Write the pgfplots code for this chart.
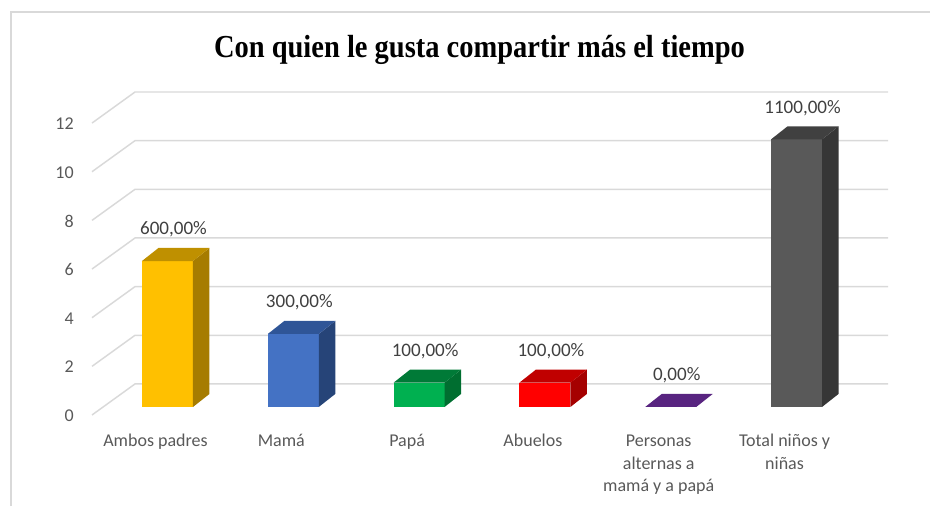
\documentclass[border=0pt]{standalone}
\usepackage{pgfplots}
\pgfplotsset{compat=1.18}
\usepackage{fontspec}
\setmainfont{Carlito}
\newfontfamily\titlefont[FakeStretch=0.89]{Liberation Serif}
\definecolor{txt}{HTML}{595959}
\definecolor{lbl}{HTML}{404040}
\definecolor{gridc}{HTML}{D9D9D9}
\definecolor{yF}{HTML}{FFC000}\definecolor{yS}{HTML}{A67C00}\definecolor{yT}{HTML}{BF9000}
\definecolor{bF}{HTML}{4472C4}\definecolor{bS}{HTML}{264478}\definecolor{bT}{HTML}{2F5597}
\definecolor{gF}{HTML}{00B050}\definecolor{gS}{HTML}{006E30}\definecolor{gT}{HTML}{007A37}
\definecolor{rF}{HTML}{FF0000}\definecolor{rS}{HTML}{A50000}\definecolor{rT}{HTML}{C00000}
\definecolor{pT}{HTML}{582480}
\definecolor{kF}{HTML}{595959}\definecolor{kS}{HTML}{363636}\definecolor{kT}{HTML}{404040}
\begin{document}
\begin{tikzpicture}
\path[use as bounding box] (0,0) rectangle (697.5pt,379.5pt);
\draw[gridc, line width=1.5pt] (8.25pt,0) -- (8.25pt,370.5pt) -- (697.5pt,370.5pt);
\node[anchor=base, inner sep=0pt, font=\titlefont\bfseries\fontsize{24}{28}\selectfont] at (359.6pt,336.3pt) {Con quien le gusta compartir más el tiempo};
\begin{axis}[
  at={(69pt,68.25pt)}, anchor=south west,
  scale only axis, width=597pt, height=242.25pt,
  xmin=-0.6, xmax=5.727, ymin=-0.33, ymax=12.947,
  clip=false, no markers,
  axis line style={draw=none},
  major tick length=0pt,
  ytick={0,2,...,12},
  yticklabel style={font=\fontsize{13.5}{16.9}\selectfont, text=txt, anchor=east, inner sep=0pt, xshift=-13.5pt, yshift=-6.5pt},
  /pgf/number format/assume math mode=true,
  xtick={0,...,5},
  xticklabels={{\strut Ambos padres},{\strut Mamá},{\strut Papá},{\strut Abuelos},{\strut Personas\\alternas a\\mamá y a papá},{\strut Total niños y\\niñas}},
  xticklabel style={font=\fontsize{13.5}{16.9}\selectfont, text=txt, anchor=north, inner sep=0pt, align=center, xshift=-9pt, yshift=-11.75pt},
]
% perspective gridlines
\addplot[gridc, line width=1.1pt] coordinates {(-0.6,-0.33) (-0.258,0.947) (5.727,0.947)};
\addplot[gridc, line width=1.1pt] coordinates {(-0.6,1.67) (-0.258,2.947) (5.727,2.947)};
\addplot[gridc, line width=1.1pt] coordinates {(-0.6,3.67) (-0.258,4.947) (5.727,4.947)};
\addplot[gridc, line width=1.1pt] coordinates {(-0.6,5.67) (-0.258,6.947) (5.727,6.947)};
\addplot[gridc, line width=1.1pt] coordinates {(-0.6,7.67) (-0.258,8.947) (5.727,8.947)};
\addplot[gridc, line width=1.1pt] coordinates {(-0.6,9.67) (-0.258,10.947) (5.727,10.947)};
\addplot[gridc, line width=1.1pt] coordinates {(-0.6,11.67) (-0.258,12.947) (5.727,12.947)};
% Ambos padres = 6
\addplot[ybar, bar width=0.405, bar shift=0pt, fill=yF, draw=none] coordinates {(0,6)};
\addplot[fill=yS, draw=none] coordinates {(0.2027,0) (0.3337,0.535) (0.3337,6.535) (0.2027,6)} -- cycle;
\addplot[fill=yT, draw=none] coordinates {(-0.2027,6) (0.2027,6) (0.3337,6.535) (-0.0717,6.535)} -- cycle;
% Mama = 3
\addplot[ybar, bar width=0.405, bar shift=0pt, fill=bF, draw=none] coordinates {(1,3)};
\addplot[fill=bS, draw=none] coordinates {(1.2027,0) (1.3337,0.535) (1.3337,3.535) (1.2027,3)} -- cycle;
\addplot[fill=bT, draw=none] coordinates {(0.7973,3) (1.2027,3) (1.3337,3.535) (0.9283,3.535)} -- cycle;
% Papa = 1
\addplot[ybar, bar width=0.405, bar shift=0pt, fill=gF, draw=none] coordinates {(2,1)};
\addplot[fill=gS, draw=none] coordinates {(2.2027,0) (2.3337,0.535) (2.3337,1.535) (2.2027,1)} -- cycle;
\addplot[fill=gT, draw=none] coordinates {(1.7973,1) (2.2027,1) (2.3337,1.535) (1.9283,1.535)} -- cycle;
% Abuelos = 1
\addplot[ybar, bar width=0.405, bar shift=0pt, fill=rF, draw=none] coordinates {(3,1)};
\addplot[fill=rS, draw=none] coordinates {(3.2027,0) (3.3337,0.535) (3.3337,1.535) (3.2027,1)} -- cycle;
\addplot[fill=rT, draw=none] coordinates {(2.7973,1) (3.2027,1) (3.3337,1.535) (2.9283,1.535)} -- cycle;
% Personas alternas = 0
\addplot[fill=pT, draw=none] coordinates {(3.7973,0) (4.2027,0) (4.3337,0.535) (3.9283,0.535)} -- cycle;
% Total = 11
\addplot[ybar, bar width=0.405, bar shift=0pt, fill=kF, draw=none] coordinates {(5,11)};
\addplot[fill=kS, draw=none] coordinates {(5.2027,0) (5.3337,0.535) (5.3337,11.535) (5.2027,11)} -- cycle;
\addplot[fill=kT, draw=none] coordinates {(4.7973,11) (5.2027,11) (5.3337,11.535) (4.9283,11.535)} -- cycle;
% data labels
\addplot[draw=none, nodes near coords, point meta=explicit symbolic,
  every node near coord/.append style={font=\fontsize{14.3}{17}\selectfont, text=lbl, anchor=center, inner sep=0pt, xshift=4.5pt, yshift=23.6pt}]
  coordinates {(0,6)[600,00\%] (1,3)[300,00\%] (2,1)[100,00\%] (3,1)[100,00\%] (4,0)[0,00\%] (5,11)[1100,00\%]};
\end{axis}
\end{tikzpicture}
\end{document}
